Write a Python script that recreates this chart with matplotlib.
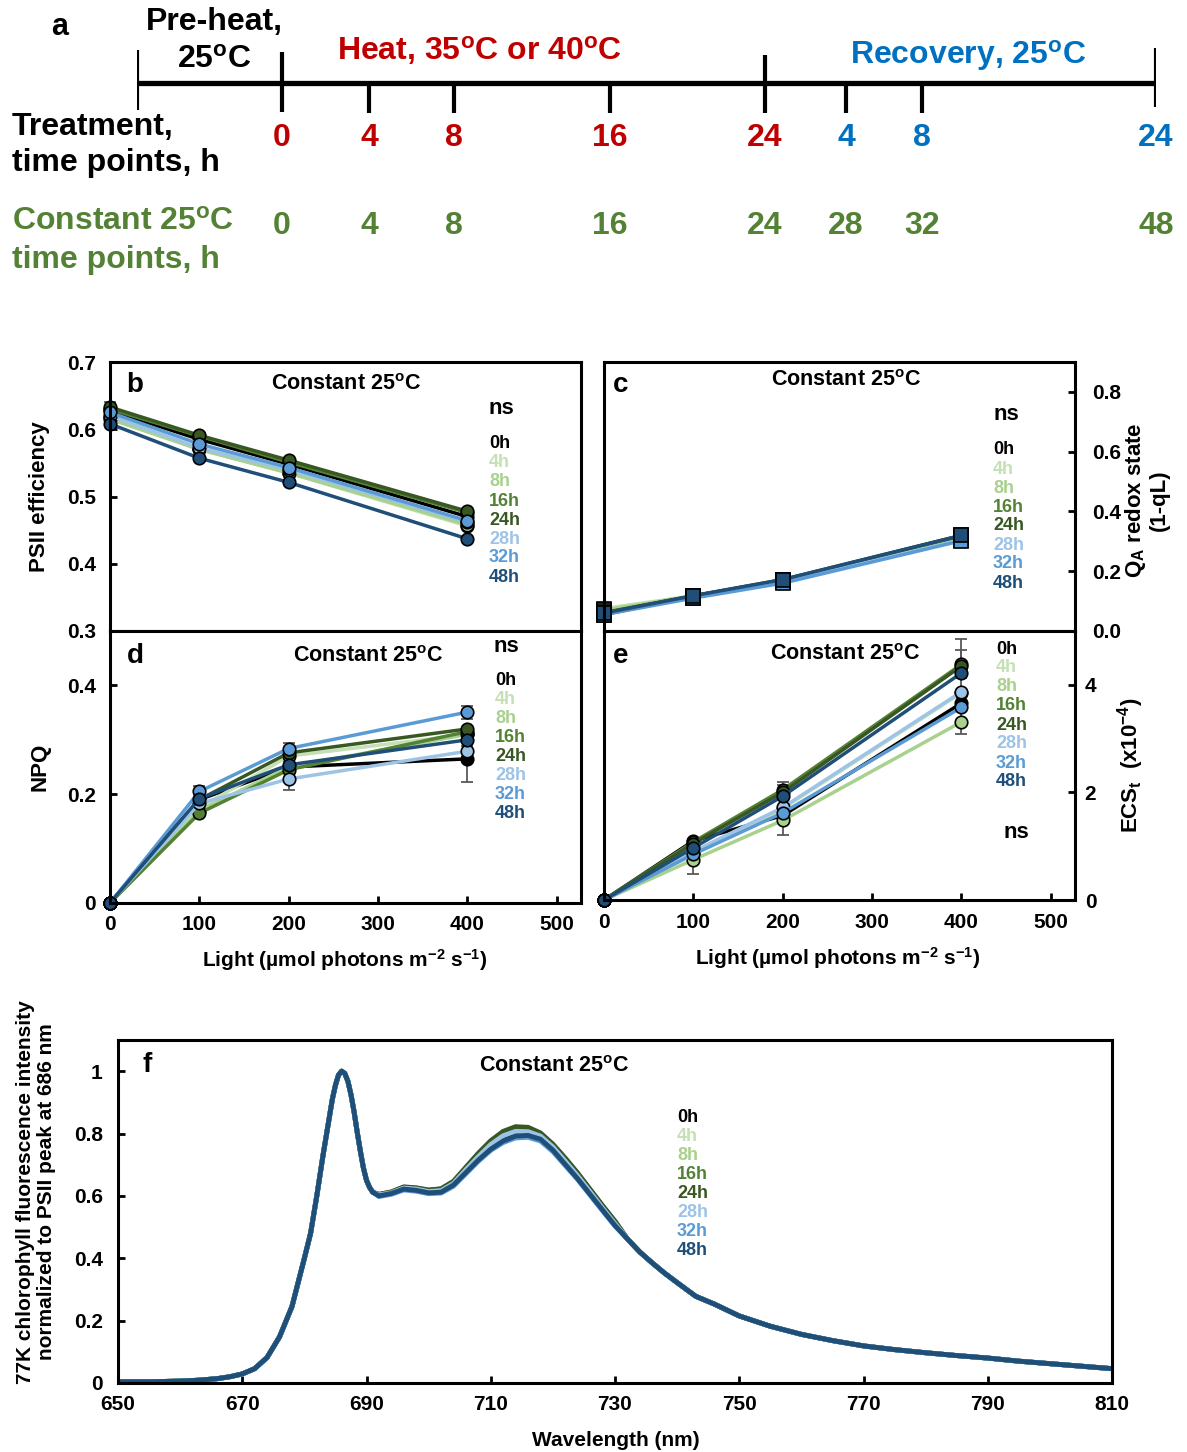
import numpy as np
import matplotlib
matplotlib.use("Agg")
import matplotlib.pyplot as plt

# ---- data -------------------------------------------------------------
labels = ["0h", "4h", "8h", "16h", "24h", "28h", "32h", "48h"]
colors = ["#000000", "#C5E0B4", "#A9D18E", "#548235",
          "#385723", "#9DC3E6", "#5B9BD5", "#1F4E79"]
light = [0, 100, 200, 400]

# PSII efficiency, one row per time point
psii = [
    [0.628, 0.585, 0.548, 0.470],
    [0.618, 0.570, 0.535, 0.456],
    [0.615, 0.570, 0.535, 0.458],
    [0.630, 0.590, 0.551, 0.476],
    [0.633, 0.591, 0.554, 0.478],
    [0.620, 0.572, 0.540, 0.462],
    [0.625, 0.578, 0.543, 0.464],
    [0.608, 0.557, 0.521, 0.437],
]
psii_err = {"0h": [0.012, 0.005, 0.008, 0.012]}

# QA redox state (1-qL)
qa = [
    [0.055, 0.115, 0.170, 0.318],
    [0.075, 0.118, 0.168, 0.315],
    [0.070, 0.117, 0.167, 0.314],
    [0.062, 0.117, 0.170, 0.318],
    [0.060, 0.118, 0.172, 0.320],
    [0.058, 0.112, 0.163, 0.305],
    [0.055, 0.110, 0.160, 0.302],
    [0.060, 0.118, 0.172, 0.320],
]

# NPQ
npq = [
    [0, 0.190, 0.250, 0.265],
    [0, 0.175, 0.270, 0.310],
    [0, 0.170, 0.250, 0.310],
    [0, 0.165, 0.245, 0.315],
    [0, 0.190, 0.276, 0.320],
    [0, 0.183, 0.228, 0.279],
    [0, 0.205, 0.284, 0.351],
    [0, 0.192, 0.254, 0.300],
]
npq_err = {"0h": [0, 0.010, 0.010, 0.043],
           "28h": [0, 0.010, 0.020, 0.010],
           "32h": [0, 0.010, 0.010, 0.012]}

# ECSt (x10^-4)
ecs = [
    [0, 1.10, 1.57, 3.66],
    [0, 0.85, 1.70, 3.85],
    [0, 0.75, 1.48, 3.31],
    [0, 1.08, 2.05, 4.38],
    [0, 1.05, 2.00, 4.35],
    [0, 0.90, 1.72, 3.87],
    [0, 0.85, 1.62, 3.58],
    [0, 0.97, 1.93, 4.22],
]
ecs_err = {"8h": [0, 0.27, 0.27, 0.23],
           "16h": [0, 0.05, 0.15, 0.26],
           "24h": [0, 0.05, 0.14, 0.50]}

# 77K spectra: shared flanks, per-sample middle section (PSI band)
wl_left = [650, 655, 660, 663, 666, 668, 670, 672, 674, 676, 678, 680,
           681, 682, 683, 684, 684.5, 685, 685.5, 686, 686.5, 687, 687.5,
           688, 688.5, 689, 689.5, 690, 690.5, 691]
f_left = [0.004, 0.004, 0.006, 0.009, 0.014, 0.020, 0.029, 0.046, 0.082,
          0.148, 0.245, 0.400, 0.480, 0.600, 0.730, 0.850, 0.910, 0.955,
          0.988, 1.000, 0.993, 0.968, 0.925, 0.870, 0.805, 0.745, 0.690,
          0.650, 0.627, 0.612]
wl_mid = [692, 694, 696, 698, 700, 702, 704, 706, 708, 710,
          712, 714, 716, 718, 720, 722, 724, 726, 728, 730]
f_mid = [
    [0.602, 0.610, 0.624, 0.620, 0.612, 0.614, 0.638, 0.678, 0.719, 0.755, 0.780, 0.795, 0.797, 0.785, 0.750, 0.705, 0.658, 0.608, 0.557, 0.507],
    [0.604, 0.611, 0.626, 0.623, 0.616, 0.619, 0.642, 0.686, 0.729, 0.768, 0.797, 0.811, 0.810, 0.795, 0.760, 0.714, 0.667, 0.615, 0.563, 0.513],
    [0.604, 0.611, 0.626, 0.623, 0.615, 0.618, 0.641, 0.685, 0.728, 0.767, 0.795, 0.809, 0.808, 0.793, 0.758, 0.713, 0.666, 0.614, 0.562, 0.512],
    [0.605, 0.612, 0.628, 0.625, 0.618, 0.622, 0.645, 0.690, 0.735, 0.775, 0.805, 0.820, 0.818, 0.800, 0.765, 0.720, 0.672, 0.620, 0.568, 0.518],
    [0.605, 0.613, 0.629, 0.626, 0.619, 0.623, 0.647, 0.692, 0.737, 0.777, 0.807, 0.822, 0.820, 0.802, 0.766, 0.721, 0.673, 0.621, 0.569, 0.519],
    [0.603, 0.610, 0.625, 0.622, 0.614, 0.617, 0.640, 0.684, 0.726, 0.765, 0.793, 0.807, 0.806, 0.792, 0.757, 0.711, 0.664, 0.613, 0.561, 0.511],
    [0.598, 0.605, 0.619, 0.615, 0.607, 0.609, 0.631, 0.671, 0.711, 0.746, 0.771, 0.786, 0.788, 0.776, 0.742, 0.697, 0.652, 0.602, 0.552, 0.503],
    [0.600, 0.608, 0.622, 0.618, 0.610, 0.612, 0.635, 0.675, 0.715, 0.750, 0.776, 0.792, 0.794, 0.782, 0.747, 0.701, 0.655, 0.605, 0.555, 0.505],
]
wl_right = [732, 734, 736, 738, 740, 743, 746, 750, 755, 760,
            765, 770, 775, 780, 785, 790, 795, 800, 805, 810]
f_right = [0.462, 0.420, 0.385, 0.352, 0.322, 0.278, 0.253, 0.215, 0.182, 0.156,
           0.136, 0.119, 0.107, 0.097, 0.088, 0.080, 0.070, 0.062, 0.054, 0.046]

# timeline
heat_h = [0, 4, 8, 16, 24]
rec_h = [4, 8, 24]
const_h = [0, 4, 8, 16, 24, 28, 32, 48]
tl_hours = [-7.2, 0, 4, 8, 16, 24, 28, 32, 48]
tl_pos = [137, 282, 369, 454, 610, 765, 846, 922, 1156]

# ---- style ------------------------------------------------------------
W, H = 1187, 1452
plt.rcParams["font.family"] = ["Liberation Sans", "DejaVu Sans"]
plt.rcParams["font.weight"] = "bold"
plt.rcParams["mathtext.fontset"] = "custom"
plt.rcParams["mathtext.rm"] = "Liberation Sans:bold"
plt.rcParams["mathtext.bf"] = "Liberation Sans:bold"
plt.rcParams["mathtext.it"] = "Liberation Sans:bold"
plt.rcParams["mathtext.default"] = "bf"
plt.rcParams["axes.linewidth"] = 2.2

RED, BLUE, GREEN = "#C00000", "#0070C0", "#548235"
deg = r"$^{\rm o}$"
const_title = "Constant 25" + deg + "C"
light_label = r"Light (µmol photons m$^{-2}$ s$^{-1}$)"

fig = plt.figure(figsize=(W / 100, H / 100), dpi=100)


def px_box(l, t, r, b):
    return [l / W, 1 - b / H, (r - l) / W, (b - t) / H]


def ftext(x, y, s, **kw):
    kw.setdefault("ha", "center")
    kw.setdefault("va", "center")
    fig.text(x / W, 1 - y / H, s, **kw)


# ---- a: timeline -------------------------------------------------------
ax_a = fig.add_axes(px_box(137, 0, 1156, 290))
ax_a.set_xscale("function", functions=(lambda h: np.interp(h, tl_hours, tl_pos),
                                       lambda p: np.interp(p, tl_pos, tl_hours)))
ax_a.set_xlim(-7.2, 48)
ax_a.set_ylim(290, 0)
ax_a.axis("off")
ax_a.plot([-7.2, 48], [83, 83], color="k", lw=3.8, solid_capstyle="butt")
ax_a.vlines([-7.2, 0, 24, 48], [50, 52, 55, 48], [110, 112, 113, 107], color="k", lw=3)
ax_a.vlines([4, 8, 16, 28, 32], 83, 113, color="k", lw=3)
for h in heat_h:
    ax_a.text(h, 138, str(h), color=RED, fontsize=23, ha="center", va="center", clip_on=False)
for h in rec_h:
    ax_a.text(24 + h, 138, str(h), color=BLUE, fontsize=23, ha="center", va="center", clip_on=False)
for h in const_h:
    ax_a.text(h, 226, str(h), color=GREEN, fontsize=23, ha="center", va="center", clip_on=False)

ftext(60, 27, "a", fontsize=22)
ftext(214, 22, "Pre-heat,", fontsize=23)
ftext(214, 60, "25" + deg + "C", fontsize=23)
ftext(480, 50, "Heat, 35" + deg + "C or 40" + deg + "C", fontsize=23, color=RED)
ftext(968, 55, "Recovery, 25" + deg + "C", fontsize=23, color=BLUE)
ftext(12, 127, "Treatment,", fontsize=23, ha="left")
ftext(12, 163, "time points, h", fontsize=23, ha="left")
ftext(12, 222, "Constant 25" + deg + "C", fontsize=23, ha="left", color=GREEN)
ftext(12, 260, "time points, h", fontsize=23, ha="left", color=GREEN)


# ---- b-e: light response panels ---------------------------------------
def draw_series(ax, data, err, marker, ms):
    for i, (lab, c) in enumerate(zip(labels, colors)):
        if lab in err:
            ax.errorbar(light, data[i], yerr=err[lab], fmt="none", ecolor="#595959",
                         elinewidth=1.3, capsize=4, capthick=1.3, zorder=1, clip_on=False)
        ax.plot(light, data[i], "-", marker=marker, color=c, mfc=c, mec="black",
                mew=1.2, ms=ms, lw=2.5, zorder=2 + i, clip_on=False)


def legend(x, y0, dy):
    for i, (lab, c) in enumerate(zip(labels, colors)):
        ftext(x, y0 + i * dy, lab, color=c, fontsize=13, ha="left")


def style(ax):
    ax.tick_params(direction="in", length=5, width=2, labelsize=15)
    ax.set_xlim(0, 527)


ax_b = fig.add_axes(px_box(110, 362, 581, 631))
draw_series(ax_b, psii, psii_err, "o", 9)
style(ax_b)
ax_b.set_ylim(0.3, 0.7)
ax_b.set_yticks([0.3, 0.4, 0.5, 0.6, 0.7])
ax_b.set_yticklabels(["0.3", "0.4", "0.5", "0.6", "0.7"])
ax_b.tick_params(axis="x", bottom=False, labelbottom=False)
ax_b.tick_params(axis="y", pad=10)

ax_c = fig.add_axes(px_box(604, 362, 1075, 631))
draw_series(ax_c, qa, {}, "s", 10)
style(ax_c)
ax_c.set_ylim(0, 0.9)
ax_c.yaxis.tick_right()
ax_c.set_yticks([0, 0.2, 0.4, 0.6, 0.8])
ax_c.set_yticklabels(["0.0", "0.2", "0.4", "0.6", "0.8"])
ax_c.tick_params(axis="x", bottom=False, labelbottom=False)
ax_c.tick_params(axis="y", pad=12)

ax_d = fig.add_axes(px_box(110, 631, 581, 903))
draw_series(ax_d, npq, npq_err, "o", 9)
style(ax_d)
ax_d.set_ylim(0, 0.5)
ax_d.set_yticks([0, 0.2, 0.4])
ax_d.set_yticklabels(["0", "0.2", "0.4"])
ax_d.set_xticks([0, 100, 200, 300, 400, 500])
ax_d.tick_params(axis="y", pad=10)
ax_d.tick_params(axis="x", pad=9)

ax_e = fig.add_axes(px_box(604, 631, 1075, 900))
draw_series(ax_e, ecs, ecs_err, "o", 9)
style(ax_e)
ax_e.set_ylim(0, 5)
ax_e.yaxis.tick_right()
ax_e.set_yticks([0, 2, 4])
ax_e.set_xticks([0, 100, 200, 300, 400, 500])
ax_e.tick_params(axis="y", pad=7)
ax_e.tick_params(axis="x", pad=9)

for ax in (ax_b, ax_c, ax_d, ax_e):
    for sp in ax.spines.values():
        sp.set_zorder(20)

ftext(135, 385, "b", fontsize=20)
ftext(346, 384, const_title, fontsize=15.5)
ftext(501, 409, "ns", fontsize=16)
legend(489, 444, 19)

ftext(621, 385, "c", fontsize=20)
ftext(846, 381, const_title, fontsize=15.5)
ftext(1006, 414, "ns", fontsize=16)
legend(993, 450, 19)

ftext(135, 656, "d", fontsize=20)
ftext(368, 657, const_title, fontsize=15.5)
ftext(506, 646, "ns", fontsize=16)
legend(495, 680, 19.1)

ftext(621, 656, "e", fontsize=20)
ftext(845, 655, const_title, fontsize=15.5)
ftext(1016, 833, "ns", fontsize=16)
legend(996, 649, 19)

ftext(40, 497, "PSII efficiency", fontsize=16, rotation=90)
ftext(40, 767, "NPQ", fontsize=16, rotation=90)
ftext(1146, 500, "Q$_A$ redox state\n(1-qL)", fontsize=16, rotation=90,
      multialignment="center", linespacing=1.05)
ftext(1131, 765, "ECS$_t$  (x10$^{-4}$)", fontsize=16, rotation=90)
ftext(345, 960, light_label, fontsize=15)
ftext(838, 958, light_label, fontsize=15)

# ---- f: 77K fluorescence spectra ----------------------------------------
ax_f = fig.add_axes(px_box(118, 1040, 1112, 1383))
for i, c in enumerate(colors):
    ax_f.plot(wl_left + wl_mid + wl_right, f_left + f_mid[i] + f_right,
              color=c, lw=3.5, zorder=2 + i, solid_joinstyle="round")
ax_f.set_xlim(650, 810)
ax_f.set_ylim(0, 1.1)
ax_f.set_xticks(np.arange(650, 811, 20))
ax_f.set_yticks([0, 0.2, 0.4, 0.6, 0.8, 1.0])
ax_f.set_yticklabels(["0", "0.2", "0.4", "0.6", "0.8", "1"])
ax_f.tick_params(direction="in", length=5, width=2, labelsize=15)
ax_f.tick_params(axis="y", pad=11)
ax_f.tick_params(axis="x", pad=9)
for sp in ax_f.spines.values():
    sp.set_zorder(20)

ftext(147, 1065, "f", fontsize=20)
ftext(554, 1067, const_title, fontsize=15.5)
legend(677, 1118, 18.9)
ftext(36, 1192, "77K chlorophyll fluorescence intensity\nnormalized to PSII peak at 686 nm",
      fontsize=15, rotation=90, multialignment="center", linespacing=1.1)
ftext(616, 1440, "Wavelength (nm)", fontsize=15)

fig.savefig("out.png", dpi=100)
